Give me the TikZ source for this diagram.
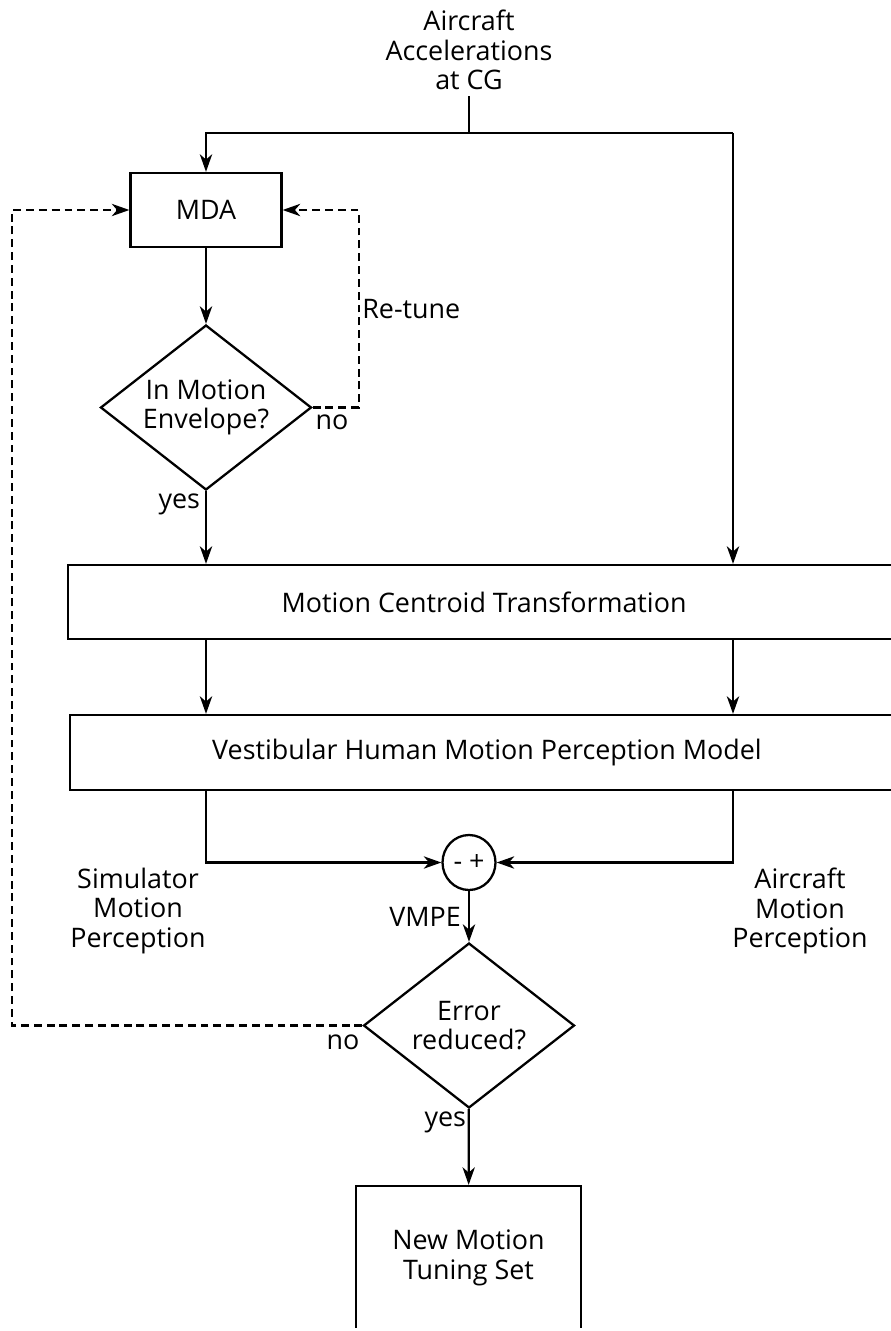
\documentclass[tikz,border=0pt]{standalone}
\usepackage{fontspec}
\setmainfont{Open Sans}
\usetikzlibrary{shapes.geometric,arrows.meta}

\begin{document}
\begin{tikzpicture}[x=0.02cm,y=-0.02cm,
    every node/.style={font=\fontsize{15.3}{16.8}\selectfont,align=center},
    block/.style={draw,line width=1.3pt,rectangle,inner sep=0pt},
    decision/.style={draw,line width=1.3pt,diamond,inner sep=0pt,
        minimum width=4.22cm,minimum height=3.3cm},
    flow/.style={line width=1.3pt,-{Stealth[length=10pt,width=7pt,inset=3pt]}},
    retune/.style={line width=1.2pt,dash pattern=on 4.5pt off 2.8pt,
        -{Stealth[length=10pt,width=7pt,inset=3pt]}},
    tag/.style={inner sep=1.5pt}]
    \pgfmathsetmacro{\boxheight}{1.48}
    \useasboundingbox (0,0) rectangle (891,1331);
    \clip (0,-10) rectangle (891,1327);

    % blocks
    \node (acc) at (469,50) {Aircraft\\Accelerations\\at CG};
    \node[block,minimum width=3.02cm,minimum height=\boxheight cm] (mda) at (206,210) {MDA};
    \node[decision,label={[align=center]center:In Motion\\Envelope?}] (env) at (206,407.5) {};
    \node[block,minimum width=16.64cm,minimum height=\boxheight cm] (mct) at (484,602) {Motion Centroid Transformation};
    \node[block,minimum width=16.68cm,minimum height=1.5cm] (vhm) at (487,752.5) {Vestibular Human Motion Perception Model};
    \node[draw,line width=1.3pt,ellipse,minimum width=1.06cm,minimum height=1.1cm,inner sep=0pt] (sum) at (469,862.5) {-~+};
    \node[decision,label={[align=center]center:Error\\reduced?}] (err) at (469,1025.5) {};
    \node[block,minimum width=4.5cm,minimum height=2.88cm] (newset) at (468.5,1258) {New Motion\\Tuning Set};

    \node (sim) at (138,911) {Simulator\\Motion\\Perception};
    \node (air) at (800,911) {Aircraft\\Motion\\Perception};

    \coordinate (split) at (469,133);
    \coordinate (right) at (733,133);
    \coordinate (far) at (12,0);

    % input and the two paths
    \draw[line width=1.3pt] (acc.south) -- (split);
    \draw[flow] (right) -- (mda.north |- split) -- (mda.north);
    \draw[flow] (right) -- (right |- mct.north);
    \draw[flow] (mda) -- (env);
    \draw[flow] (env.south) -- (env.south |- mct.north);
    \draw[retune] (env.east) -- ++(46,0) |- node[pos=0.25,right,tag] (rt) {Re-tune} (mda.east);
    \node[anchor=north west,tag,yshift=-0.08cm] (envno) at (env.east) {no};
    \node[anchor=north east,tag,xshift=-0.06cm] (envyes) at (env.south) {yes};

    \draw[flow] (mct.south -| env.south) -- (vhm.north -| env.south);
    \draw[flow] (mct.south -| right) -- (vhm.north -| right);
    \draw[flow] (vhm.south -| env.south) |- (sum.west);
    \draw[flow] (vhm.south -| right) |- (sum.east);

    % error check
    \draw[flow] (sum) -- node[left,inner sep=4pt] (vmpe) {VMPE} (err);
    \draw[retune] (err.west) -- (err.west -| far) |- (mda.west);
    \node[anchor=north east,tag,yshift=-0.12cm] (errno) at (err.west) {no};
    \node[anchor=north east,tag] (erryes) at (err.south) {yes};
    \draw[flow] (err) -- (newset);
\end{tikzpicture}
\end{document}
